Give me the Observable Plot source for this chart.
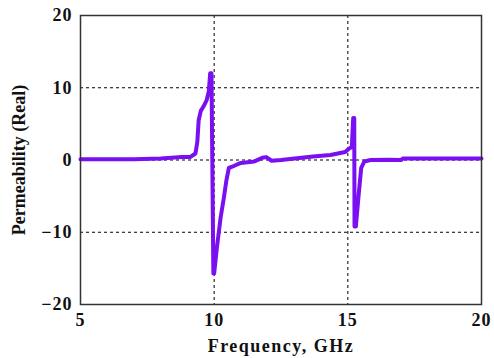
<!DOCTYPE html>
<html>
<head>
<meta charset="utf-8">
<script src="https://cdn.jsdelivr.net/npm/d3@7"></script>
<script src="https://cdn.jsdelivr.net/npm/@observablehq/plot@0.6"></script>
<style>
  html, body { margin: 0; padding: 0; background: #fff; }
  #chart svg { display: block; }
  #chart g[aria-label="x-axis tick label"] text,
  #chart g[aria-label="y-axis tick label"] text { letter-spacing: 1px; }
  #chart g[aria-label="x-axis label"] text { letter-spacing: 1.5px; }
</style>
</head>
<body>
<div id="chart"></div>
<script>
const freq = [5, 7, 8, 8.8, 9.1, 9.3, 9.37, 9.42, 9.5, 9.6, 9.72, 9.8, 9.85, 9.9, 9.93, 9.97, 10.0, 10.1, 10.24, 10.36, 10.45, 10.55, 10.75, 11.0, 11.5, 11.8, 11.95, 12.15, 12.5, 13.1, 13.7, 14.35, 14.9, 15.05, 15.15, 15.2, 15.24, 15.25, 15.3, 15.4, 15.5, 15.62, 15.85, 16.5, 17.0, 17.05, 20];
const permReal = [0.1, 0.1, 0.2, 0.4, 0.4, 0.9, 2.5, 5.5, 6.8, 7.4, 8.3, 9.5, 12.0, 12.0, 0, -15.7, -15.7, -12.2, -8.0, -5.3, -3.0, -1.1, -0.8, -0.4, -0.2, 0.3, 0.4, -0.1, 0.0, 0.25, 0.5, 0.7, 1.1, 1.6, 1.8, 5.8, 5.8, -9.2, -9.2, -5.0, -1.1, -0.2, 0.0, 0.05, 0.0, 0.2, 0.2];
const xTicks = [5, 10, 15, 20];
const yTicks = [-20, -10, 0, 10, 20];

const data = freq.map((f, i) => ({f, v: permReal[i]}));

const chart = Plot.plot({
  width: 494,
  height: 358,
  marginLeft: 80,
  marginRight: 13,
  marginTop: 15,
  marginBottom: 54,
  style: {fontFamily: "'Liberation Serif', serif", fontWeight: "bold", fontSize: "18px", color: "#111", background: "#fff"},
  x: {domain: [5, 20]},
  y: {domain: [-20, 20]},
  marks: [
    Plot.gridX([10, 15], {stroke: "#000", strokeOpacity: 1, strokeDasharray: "3,3", strokeWidth: 1}),
    Plot.gridY([-10, 0, 10, 20], {stroke: "#000", strokeOpacity: 1, strokeDasharray: "3,3", strokeWidth: 1}),
    Plot.line(data, {x: "f", y: "v", stroke: "#7a0ff2", strokeWidth: 4, strokeLinejoin: "round"}),
    Plot.frame({stroke: "#333", strokeWidth: 1.5}),
    Plot.axisX(xTicks, {tickSize: 0, tickPadding: 9, fontSize: 18, label: "Frequency, GHz", labelAnchor: "center", labelOffset: 47, labelArrow: "none"}),
    Plot.axisY(yTicks, {tickSize: 0, tickPadding: 8, fontSize: 18, label: "Permeability (Real)", labelAnchor: "center", labelOffset: 68, labelArrow: "none"})
  ]
});
document.getElementById("chart").appendChild(chart);
</script>
</body>
</html>
